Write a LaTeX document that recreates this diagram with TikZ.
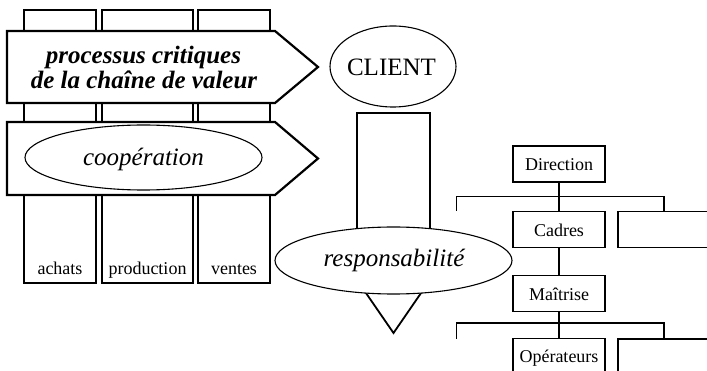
\documentclass[tikz,border=0pt]{standalone}
\usepackage{fontspec}
\setmainfont{Liberation Serif}
\usetikzlibrary{shapes.geometric}
\begin{document}
\begin{tikzpicture}[x=1pt,y=-1pt,
  col/.style={draw,line width=1.2pt},
  bigarrow/.style={draw,fill=white,line width=2.2pt,line join=miter},
  oval/.style={draw,fill=white,ellipse,line width=1.1pt,inner sep=0pt},
  bigtxt/.style={font=\fontsize{25}{25}\selectfont,inner sep=0pt,anchor=base},
  bigbold/.style={font=\fontsize{25}{25}\selectfont\bfseries\itshape,inner sep=0pt,anchor=base},
  bigital/.style={font=\fontsize{25}{25}\selectfont\itshape,inner sep=0pt,anchor=base},
  smalltxt/.style={font=\fontsize{18}{18}\selectfont,inner sep=0pt,anchor=base},
  orgbox/.style={draw,line width=1.2pt,minimum width=92pt,minimum height=36pt,inner sep=0pt,
    font=\fontsize{18}{18}\selectfont,text height=13pt,text depth=0pt},
  link/.style={line width=1.2pt}]
\useasboundingbox (0,0) rectangle (707,371);
\clip (0,0) rectangle (707,371);

% columns
\draw[col] (24,10) rectangle (96,283);
\draw[col] (102,10) rectangle (193,283);
\draw[col] (198,10) rectangle (270,283);
\node[smalltxt] (achats) at (60,274.5) {achats};
\node[smalltxt] (production) at (147.5,274.5) {production};
\node[smalltxt] (ventes) at (234,274.5) {ventes};

% big arrows
\draw[bigarrow] (7,31) -- (275,31) -- (318,67) -- (275,103) -- (7,103) -- cycle;
\draw[bigarrow] (7,122) -- (275,122) -- (318,158.5) -- (275,195) -- (7,195) -- cycle;
\node[bigbold] (proc1) at (143.5,63.3) {processus critiques};
\node[bigbold] (proc2) at (144,88.3) {de la chaîne de valeur};
\node[oval,minimum width=237pt,minimum height=65pt] (coopoval) at (143.5,157.5) {};
\node[bigital] (coop) at (143.5,165.7) {coopération};

% client column
\node[oval,minimum width=126pt,minimum height=81pt] (clientoval) at (393,66.5) {};
\node[bigtxt] (client) at (391.5,76) {CLIENT};
\draw[line width=1.8pt,fill=white,line join=miter] (357,280) -- (430,280) -- (393.5,333) -- cycle;
\draw[line width=2pt,fill=white] (357,113) rectangle (430,245);
\node[oval,minimum width=237pt,minimum height=67pt] (respoval) at (393.5,260.5) {};
\node[bigital] (resp) at (394,266.7) {responsabilité};

% org chart
\node[orgbox] (dir) at (559,164) {Direction};
\node[orgbox] (cad) at (559,229.7) {Cadres};
\node[orgbox] (cadR) at (664,229.5) {};
\node[orgbox] (mai) at (559,293.7) {Maîtrise};
\node[orgbox] (ope) at (559,356.3) {Opérateurs};
\node[orgbox] (opeR) at (664,357) {};
\coordinate (l1) at (456.7,210.7);
\coordinate (h1L) at (456.7,196.7);
\coordinate (h1R) at (664,196.7);
\coordinate (l2) at (456.7,339);
\coordinate (h2L) at (456.7,323);
\coordinate (h2R) at (664,323);
\draw[link] (dir) -- (cad);
\draw[link] (l1) -- (h1L) -- (h1R) -- (cadR.north);
\draw[link] (cad) -- (mai);
\draw[link] (mai) -- (ope);
\draw[link] (l2) -- (h2L) -- (h2R) -- (opeR.north);
\end{tikzpicture}
\end{document}
